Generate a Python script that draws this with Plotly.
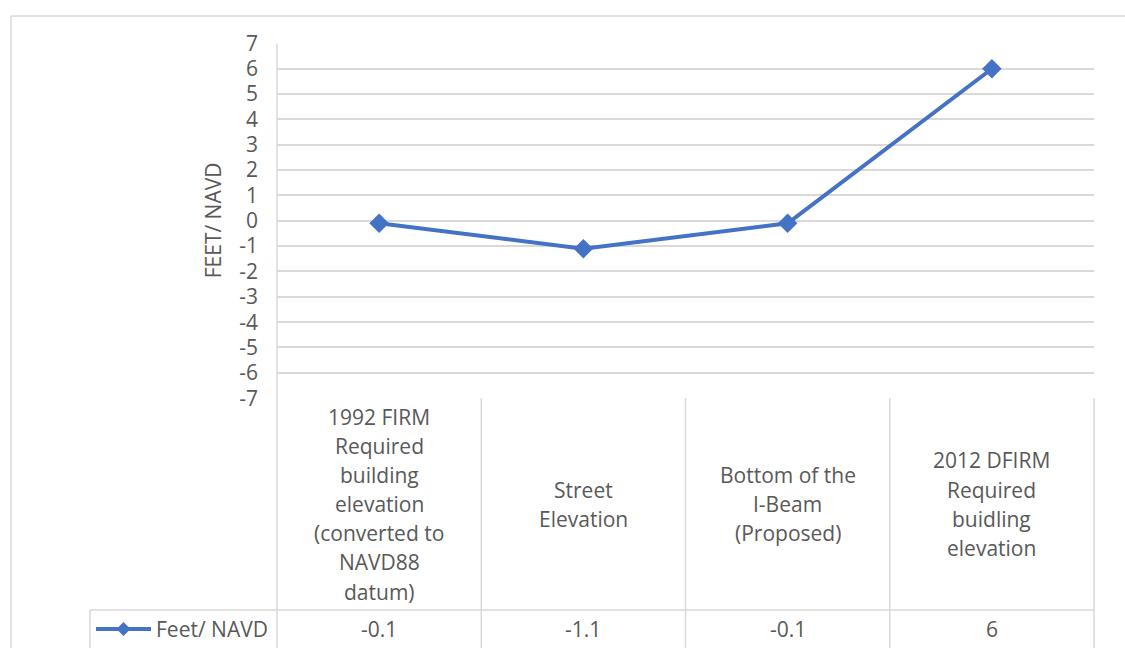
import plotly.graph_objects as go

# ---- data ----
categories = [
    "1992 FIRM<br>Required<br>building<br>elevation<br>(converted to<br>NAVD88<br>datum)",
    "Street<br>Elevation",
    "Bottom of the<br>I-Beam<br>(Proposed)",
    "2012 DFIRM<br>Required<br>buidling<br>elevation",
]
series_name = "Feet/ NAVD"
values = [-0.1, -1.1, -0.1, 6]
y_tick_vals = [7, 6, 5, 4, 3, 2, 1, 0, -1, -2, -3, -4, -5, -6, -7]
y_tick_text = ["7", "6", "5", "4", "3", "2", "1", "0", "-1", "-2", "-3", "-4", "-5", "-6", "-7"]
y_title = "FEET/ NAVD"

W, H = 1125, 690
FONT = "Open Sans"
FS = 21
TXT = "#595959"
GRID = "#d9d9d9"
BLUE = "#4472C4"

# observed mapping from page pixels to picture pixels (vertical)
A_OFF, S_Y = 14.6, 0.960

# layout in picture pixels
PL, PR, PT, PB = 277, 1094, 43, 398   # plot area
ROW_Y = 610                            # data row top
LEG_X = 90
LINE_H = 29.2

def px(x):
    return x / W

def py(y):
    fy = (y - A_OFF) / S_Y
    return 1 - fy / H

n = len(categories)
x_idx = list(range(n))

fig = go.Figure()
fig.add_trace(go.Scatter(
    x=x_idx, y=values, mode="lines+markers", name=series_name,
    line=dict(color=BLUE, width=4),
    marker=dict(symbol="diamond", size=15, color=BLUE),
    showlegend=False, cliponaxis=False,
))

shapes = []
line_style = dict(color=GRID, width=1.5)
BOT = 700
# outer chart border (top & left)
TOPB = max(11, A_OFF + 1)
shapes.append(dict(type="line", xref="paper", yref="paper", x0=px(11), x1=px(W), y0=py(TOPB), y1=py(TOPB), line=line_style))
shapes.append(dict(type="line", xref="paper", yref="paper", x0=px(11), x1=px(11), y0=py(TOPB), y1=py(BOT), line=line_style))
# left vertical edge of plot + table
shapes.append(dict(type="line", xref="paper", yref="paper", x0=px(PL), x1=px(PL), y0=py(PT), y1=py(BOT), line=line_style))
# table column separators
col_w = (PR - PL) / n
for i in range(1, n + 1):
    xx = PL + i * col_w
    shapes.append(dict(type="line", xref="paper", yref="paper", x0=px(xx), x1=px(xx), y0=py(PB), y1=py(BOT), line=line_style))
# data row top line and legend cell
shapes.append(dict(type="line", xref="paper", yref="paper", x0=px(LEG_X), x1=px(PR), y0=py(ROW_Y), y1=py(ROW_Y), line=line_style))
shapes.append(dict(type="line", xref="paper", yref="paper", x0=px(LEG_X), x1=px(LEG_X), y0=py(ROW_Y), y1=py(BOT), line=line_style))
# legend key: line + diamond
ky = 629
shapes.append(dict(type="line", xref="paper", yref="paper", x0=px(96), x1=px(151), y0=py(ky), y1=py(ky), line=dict(color=BLUE, width=4)))
cx, d = 123.5, 7
shapes.append(dict(type="path", xref="paper", yref="paper",
                   path=f"M {px(cx)},{py(ky - d)} L {px(cx + d)},{py(ky)} L {px(cx)},{py(ky + d)} L {px(cx - d)},{py(ky)} Z",
                   fillcolor=BLUE, line=dict(color=BLUE, width=0)))

annotations = []
mid = (PB + ROW_Y) / 2
for i, (c, v) in enumerate(zip(categories, values)):
    xc = PL + (i + 0.5) * col_w
    lines = c.split("<br>")
    k = len(lines)
    for j, ln in enumerate(lines):
        yy = mid + (j - (k - 1) / 2) * LINE_H
        annotations.append(dict(x=px(xc), y=py(yy), xref="paper", yref="paper", text=ln,
                                showarrow=False, xanchor="center", yanchor="middle", align="center",
                                font=dict(family=FONT, size=FS, color=TXT)))
    annotations.append(dict(x=px(xc), y=py(ky), xref="paper", yref="paper", text=f"{v:g}",
                            showarrow=False, xanchor="center", yanchor="middle",
                            font=dict(family=FONT, size=FS, color=TXT)))
annotations.append(dict(x=px(154), y=py(ky), xref="paper", yref="paper", text=series_name,
                        showarrow=False, xanchor="left", yanchor="middle",
                        font=dict(family=FONT, size=FS, color=TXT)))
annotations.append(dict(x=px(213), y=py(220), xref="paper", yref="paper", text=y_title, textangle=-90,
                        showarrow=False, xanchor="center", yanchor="middle",
                        font=dict(family=FONT, size=FS, color=TXT)))

fig.update_layout(
    width=W, height=H,
    margin=dict(l=0, r=0, t=0, b=0),
    paper_bgcolor="white", plot_bgcolor="white",
    xaxis=dict(domain=[px(PL), px(PR)], range=[-0.5, n - 0.5], showgrid=False, zeroline=False,
               showticklabels=False, showline=False, fixedrange=True),
    yaxis=dict(domain=[py(PB), py(PT)], range=[-7, 7], tickvals=y_tick_vals, ticktext=y_tick_text,
               showgrid=True, gridcolor=GRID, gridwidth=1.5, zeroline=False, showline=False,
               ticks="", ticklabelstandoff=18,
               tickfont=dict(family=FONT, size=FS, color=TXT), fixedrange=True),
    shapes=shapes, annotations=annotations,
)

post = (
    "document.documentElement.style.margin='0';"
    "document.body.style.margin='0';"
    "document.documentElement.style.overflow='hidden';"
    "document.body.style.overflow='hidden';"
    "var gd=document.getElementById('{plot_id}');"
    "gd.style.position='fixed';gd.style.left='0px';gd.style.top='0px';"
)

fig.write_html("out.html", post_script=post, config={"displayModeBar": False})
